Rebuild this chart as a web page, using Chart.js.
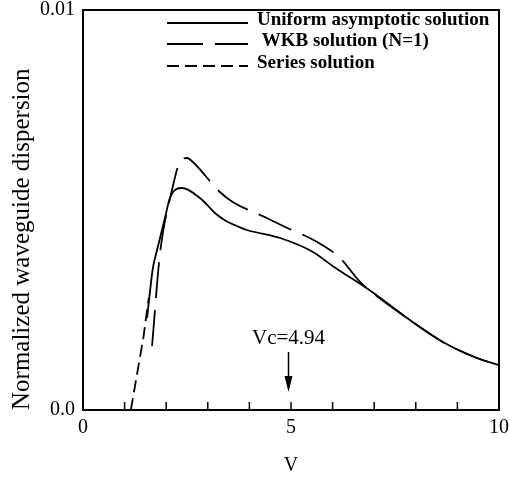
<!DOCTYPE html>
<html>
<head>
<meta charset="utf-8">
<script src="https://cdn.jsdelivr.net/npm/chart.js@4.4.1/dist/chart.umd.min.js"></script>
<style>
  html, body { margin: 0; padding: 0; background: #fff; }
  #wrap { width: 509px; height: 478px; position: relative; }
</style>
</head>
<body>
<div id="wrap"><canvas id="chart"></canvas></div>
<script>
// values (V vs normalized dispersion)
const uniformV   = [1.54, 1.68, 1.78, 1.97, 2.09, 2.38, 2.81, 3.2, 3.45, 3.7, 3.94, 4.74, 5.53, 6.0, 6.95, 7.79, 8.65, 9.47, 10];
const uniformD   = [0.0023, 0.00355, 0.0040, 0.0048, 0.0053, 0.00555, 0.0053, 0.0049, 0.00472, 0.0046, 0.0045, 0.0043, 0.00395, 0.0036, 0.00295, 0.0023, 0.0017, 0.0013, 0.00112];
const wkbV       = [1.66, 1.85, 2.14, 2.33, 2.5, 2.64, 3.29, 3.6, 4.42, 4.81, 5.63, 6.18, 6.66, 7.0, 7.79, 8.65, 9.47, 10];
const wkbD       = [0.0016, 0.0039, 0.0055, 0.0062, 0.0063, 0.0062, 0.00545, 0.0052, 0.0048, 0.0046, 0.0042, 0.0038, 0.0032, 0.0029, 0.0023, 0.0017, 0.0013, 0.00112];
const seriesV    = [1.15, 1.3, 1.45, 1.58];
const seriesD    = [0.0, 0.0009, 0.0018, 0.0028];
const xTickLabels = [0, 5, 10];
const seriesNames = ['Uniform asymptotic solution', ' WKB solution (N=1)', 'Series solution'];
const vc = 4.94;

const serif = "'Liberation Serif', 'Times New Roman', serif";
const pts = (xs, ys) => xs.map((x, i) => ({ x: x, y: ys[i] }));

// box on top/right + inward minor ticks on the V axis
const framePlugin = {
  id: 'frame',
  afterDraw(chart) {
    const { ctx, chartArea: a, scales: { x, y } } = chart;
    ctx.save();
    ctx.strokeStyle = '#000';
    ctx.lineWidth = 2;
    ctx.beginPath();
    ctx.moveTo(a.left, a.top); ctx.lineTo(a.right, a.top); ctx.lineTo(a.right, a.bottom);
    ctx.stroke();
    ctx.lineWidth = 1.5;
    for (let v = 1; v < 10; v++) {
      const px = x.getPixelForValue(v);
      ctx.beginPath(); ctx.moveTo(px, a.bottom); ctx.lineTo(px, a.bottom - 8); ctx.stroke();
    }
    // Vc marker
    const vx = x.getPixelForValue(vc);
    ctx.fillStyle = '#000';
    ctx.font = '21px ' + serif;
    ctx.textAlign = 'center';
    ctx.textBaseline = 'middle';
    ctx.fillText('Vc=4.94', vx, y.getPixelForValue(0.0018));
    const top = y.getPixelForValue(0.00145), tip = y.getPixelForValue(0.00045);
    ctx.lineWidth = 1.5;
    ctx.beginPath(); ctx.moveTo(vx, top); ctx.lineTo(vx, tip - 4); ctx.stroke();
    ctx.beginPath(); ctx.moveTo(vx - 4, tip - 16); ctx.lineTo(vx + 4, tip - 16); ctx.lineTo(vx, tip); ctx.closePath(); ctx.fill();
    ctx.restore();
  }
};

// legend drawn inside the plot, top right
const legendPlugin = {
  id: 'innerLegend',
  afterDraw(chart) {
    const { ctx } = chart;
    const rows = [23, 44, 66];
    ctx.save();
    ctx.font = 'bold 19px ' + serif;
    ctx.fillStyle = '#000';
    ctx.textBaseline = 'middle';
    chart.data.datasets.forEach((ds, i) => {
      ctx.strokeStyle = '#000';
      ctx.lineWidth = ds.borderWidth;
      ctx.setLineDash(ds.borderDash || []);
      ctx.beginPath(); ctx.moveTo(167, rows[i]); ctx.lineTo(248, rows[i]); ctx.stroke();
      ctx.fillText(ds.label, 257, rows[i] - 3);
    });
    ctx.restore();
  }
};

new Chart(document.getElementById('chart'), {
  type: 'line',
  data: {
    datasets: [
      { label: seriesNames[0], data: pts(uniformV, uniformD), borderColor: '#000', borderWidth: 1.8, pointRadius: 0, cubicInterpolationMode: 'monotone' },
      { label: seriesNames[1], data: pts(wkbV, wkbD), borderColor: '#000', borderWidth: 1.8, borderDash: [36, 12], pointRadius: 0, cubicInterpolationMode: 'monotone' },
      { label: seriesNames[2], data: pts(seriesV, seriesD), borderColor: '#000', borderWidth: 1.8, borderDash: [12, 6], pointRadius: 0 }
    ]
  },
  options: {
    responsive: true,
    maintainAspectRatio: false,
    animation: false,
    layout: { padding: { top: 10, right: 10, left: 0, bottom: 0 } },
    plugins: { legend: { display: false }, tooltip: { enabled: false } },
    scales: {
      x: {
        type: 'linear', min: 0, max: 10,
        grid: { display: false, drawTicks: false },
        border: { color: '#000', width: 2 },
        ticks: {
          stepSize: 1, autoSkip: false, maxRotation: 0, padding: 6, color: '#000',
          font: { family: serif, size: 20 },
          callback: v => xTickLabels.includes(v) ? String(v) : ''
        },
        title: { display: true, text: 'V', color: '#000', font: { family: serif, size: 20 }, padding: 0 },
        afterFit: s => { s.height = 68; s.paddingLeft = 0; s.paddingRight = 0; }
      },
      y: {
        min: 0, max: 0.01,
        grid: { display: false, drawTicks: false },
        border: { color: '#000', width: 2 },
        ticks: {
          stepSize: 0.01, padding: 8, color: '#000',
          font: { family: serif, size: 20 },
          callback: v => v === 0 ? '0.0' : '0.01'
        },
        title: { display: true, text: 'Normalized waveguide dispersion', align: 'start', color: '#000', font: { family: serif, size: 25 }, padding: { top: 7 } },
        afterFit: s => { s.width = 83; s.paddingTop = 0; s.paddingBottom = 0; }
      }
    }
  },
  plugins: [framePlugin, legendPlugin]
});
</script>
</body>
</html>
